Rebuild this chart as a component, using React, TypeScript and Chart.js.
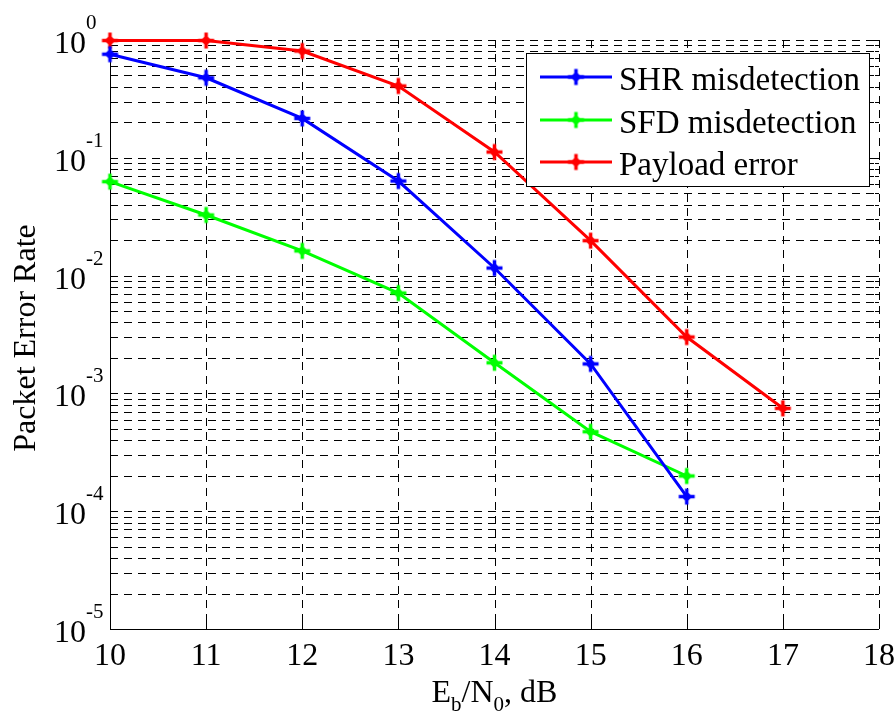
import React, { useEffect, useRef } from "react";
import { Chart, registerables } from "chart.js";

Chart.register(...registerables);

// ---- data ----
const snrDb = [10, 11, 12, 13, 14, 15, 16, 17];
const shrMisdetection = [0.757, 0.478, 0.216, 0.0635, 0.0116, 0.00178, 0.000133];
const sfdMisdetection = [0.0627, 0.0327, 0.0162, 0.00711, 0.00182, 0.000473, 0.000199];
const payloadError = [0.99, 0.99, 0.806, 0.407, 0.112, 0.0198, 0.00301, 0.000747];
const seriesNames = ["SHR misdetection", "SFD misdetection", "Payload error"];
const seriesColors = ["#0000ff", "#00ff00", "#ff0000"];
const xTickValues = [10, 11, 12, 13, 14, 15, 16, 17, 18];
const yTickExponents = [-5, -4, -3, -2, -1, 0];
const xTitleParts = [
  { t: "E", sub: false },
  { t: "b", sub: true },
  { t: "/N", sub: false },
  { t: "0", sub: true },
  { t: ", dB", sub: false },
];
const yTitle = "Packet Error Rate";

const FONT = '"Liberation Serif", "Times New Roman", serif';

function makeMarker(color: string): HTMLCanvasElement {
  const c = document.createElement("canvas");
  c.width = 19;
  c.height = 19;
  const g = c.getContext("2d")!;
  g.strokeStyle = color;
  g.fillStyle = color;
  g.lineWidth = 3.5;
  g.beginPath();
  g.moveTo(1.5, 9.5);
  g.lineTo(17.5, 9.5);
  g.moveTo(9.5, 1.5);
  g.lineTo(9.5, 17.5);
  g.stroke();
  g.beginPath();
  g.moveTo(9.5, 4);
  g.lineTo(15, 9.5);
  g.lineTo(9.5, 15);
  g.lineTo(4, 9.5);
  g.closePath();
  g.fill();
  return c;
}

const matlabPlugin = {
  id: "matlabAxes",
  beforeDatasetsDraw(chart: any) {
    const { ctx, chartArea: a, scales } = chart;
    const x = scales.x;
    const y = scales.y;
    ctx.save();
    ctx.strokeStyle = "#000";
    ctx.lineWidth = 1;
    ctx.setLineDash([8, 6]);
    for (const e of yTickExponents) {
      for (let m = 1; m <= 9; m++) {
        const v = m * Math.pow(10, e);
        if (v > 1.0000001) break;
        const py = Math.round(y.getPixelForValue(v)) + 0.5;
        ctx.beginPath();
        ctx.moveTo(a.left, py);
        ctx.lineTo(a.right, py);
        ctx.stroke();
      }
    }
    for (const t of xTickValues) {
      const px = Math.round(x.getPixelForValue(t)) + 0.5;
      ctx.beginPath();
      ctx.moveTo(px, a.top);
      ctx.lineTo(px, a.bottom);
      ctx.stroke();
    }
    ctx.setLineDash([]);
    ctx.beginPath();
    for (const e of yTickExponents) {
      for (let m = 1; m <= 9; m++) {
        const v = m * Math.pow(10, e);
        if (v > 1.0000001) break;
        const py = Math.round(y.getPixelForValue(v)) + 0.5;
        const len = m === 1 ? 8 : 4;
        ctx.moveTo(a.left, py);
        ctx.lineTo(a.left + len, py);
        ctx.moveTo(a.right, py);
        ctx.lineTo(a.right - len, py);
      }
    }
    for (const t of xTickValues) {
      const px = Math.round(x.getPixelForValue(t)) + 0.5;
      ctx.moveTo(px, a.bottom);
      ctx.lineTo(px, a.bottom - 8);
      ctx.moveTo(px, a.top);
      ctx.lineTo(px, a.top + 8);
    }
    ctx.stroke();
    ctx.beginPath();
    const lx = Math.round(a.left) + 0.5;
    const by = Math.round(a.bottom) + 0.5;
    ctx.moveTo(lx, a.top);
    ctx.lineTo(lx, by);
    ctx.lineTo(a.right, by);
    ctx.stroke();

    ctx.fillStyle = "#000";
    for (const e of yTickExponents) {
      const py = y.getPixelForValue(Math.pow(10, e));
      ctx.font = `32px ${FONT}`;
      ctx.textAlign = "right";
      ctx.textBaseline = "alphabetic";
      ctx.fillText("10", 86, py + 13);
      ctx.font = `21px ${FONT}`;
      ctx.textAlign = "left";
      ctx.fillText(String(e), 86, py - 11);
    }
    ctx.font = `32px ${FONT}`;
    ctx.textAlign = "center";
    for (const t of xTickValues) {
      const px = x.getPixelForValue(t);
      ctx.fillText(String(t), px, 665);
    }
    let total = 0;
    for (const p of xTitleParts) {
      ctx.font = `${p.sub ? 21 : 32}px ${FONT}`;
      total += ctx.measureText(p.t).width;
    }
    let cx = (a.left + a.right) / 2 - total / 2;
    ctx.textAlign = "left";
    for (const p of xTitleParts) {
      ctx.font = `${p.sub ? 21 : 32}px ${FONT}`;
      ctx.fillText(p.t, cx, p.sub ? 711 : 702);
      cx += ctx.measureText(p.t).width;
    }
    ctx.save();
    ctx.translate(35, 338);
    ctx.rotate(-Math.PI / 2);
    ctx.font = `32px ${FONT}`;
    ctx.textAlign = "center";
    ctx.fillText(yTitle, 0, 0);
    ctx.restore();
    ctx.restore();
  },
  afterDatasetsDraw(chart: any) {
    const { ctx } = chart;
    ctx.save();
    ctx.fillStyle = "#fff";
    ctx.strokeStyle = "#000";
    ctx.lineWidth = 1;
    ctx.fillRect(526.5, 53.5, 343, 133);
    ctx.strokeRect(526.5, 53.5, 343, 133);
    const rows = [77, 120, 162];
    seriesNames.forEach((name, i) => {
      const ly = rows[i];
      ctx.strokeStyle = seriesColors[i];
      ctx.lineWidth = 3;
      ctx.beginPath();
      ctx.moveTo(540, ly);
      ctx.lineTo(612, ly);
      ctx.stroke();
      const mk = chart.data.datasets[i].pointStyle as HTMLCanvasElement;
      ctx.drawImage(mk, 576 - mk.width / 2, ly - mk.height / 2);
      ctx.fillStyle = "#000";
      ctx.font = `33px ${FONT}`;
      ctx.textAlign = "left";
      ctx.textBaseline = "alphabetic";
      ctx.fillText(name, 619, ly + 13);
    });
    ctx.restore();
  },
};

export default function App() {
  const ref = useRef<HTMLCanvasElement | null>(null);
  useEffect(() => {
    if (!ref.current) return;
    const series = [shrMisdetection, sfdMisdetection, payloadError];
    const chart = new Chart(ref.current, {
      type: "line",
      data: {
        datasets: series.map((vals, i) => {
          const marker = makeMarker(seriesColors[i]);
          return {
            label: seriesNames[i],
            data: vals.map((v, k) => ({ x: snrDb[k], y: v })),
            borderColor: seriesColors[i],
            backgroundColor: seriesColors[i],
            borderWidth: 3,
            tension: 0,
            pointStyle: marker as any,
            pointRadius: 8,
            clip: false as any,
          };
        }),
      },
      options: {
        responsive: false,
        animation: false,
        devicePixelRatio: 1,
        layout: { padding: { top: 40, right: 17, left: 0, bottom: 0 } },
        plugins: { legend: { display: false }, tooltip: { enabled: false }, title: { display: false } },
        scales: {
          x: {
            type: "linear",
            min: 10,
            max: 18,
            ticks: { display: false },
            grid: { display: false },
            border: { display: false },
            afterFit: (s: any) => {
              s.height = 89;
            },
          },
          y: {
            type: "logarithmic",
            min: 1e-5,
            max: 1,
            ticks: { display: false },
            grid: { display: false },
            border: { display: false },
            afterFit: (s: any) => {
              s.width = 110;
            },
          },
        },
      },
      plugins: [matlabPlugin],
    });
    return () => chart.destroy();
  }, []);
  return (
    <div style={{ position: "fixed", left: 0, top: 0, width: 896, height: 718, background: "#fff" }}>
      <canvas ref={ref} width={896} height={718} style={{ width: 896, height: 718, display: "block" }} />
    </div>
  );
}
